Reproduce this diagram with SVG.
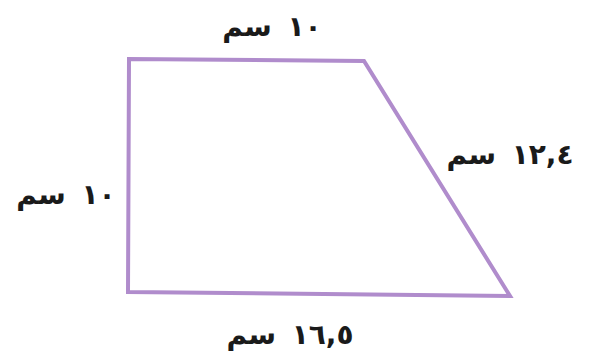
<svg xmlns="http://www.w3.org/2000/svg" width="589" height="360" viewBox="0 0 589 360">
<style>
.edge{fill:none;stroke:#b08ccc;stroke-width:4;stroke-linejoin:miter}
.lbl{font-family:"DejaVu Sans",sans-serif;font-size:28px;font-weight:bold;fill:#1a1a1a;text-anchor:middle;word-spacing:6px}
</style>
<rect width="589" height="360" fill="#ffffff"/>
<g id="shape">
<path class="edge" d="M129,59 L364,61 L510,296 L128,292 Z"/>
</g>
<g id="labels">
<text class="lbl" x="272" y="36" direction="rtl">١٠ سم</text>
<text class="lbl" x="510" y="164" direction="rtl">١٢,٤ سم</text>
<text class="lbl" x="66" y="204" direction="rtl">١٠ سم</text>
<text class="lbl" x="290" y="344" direction="rtl">١٦,٥ سم</text>
</g>
</svg>
